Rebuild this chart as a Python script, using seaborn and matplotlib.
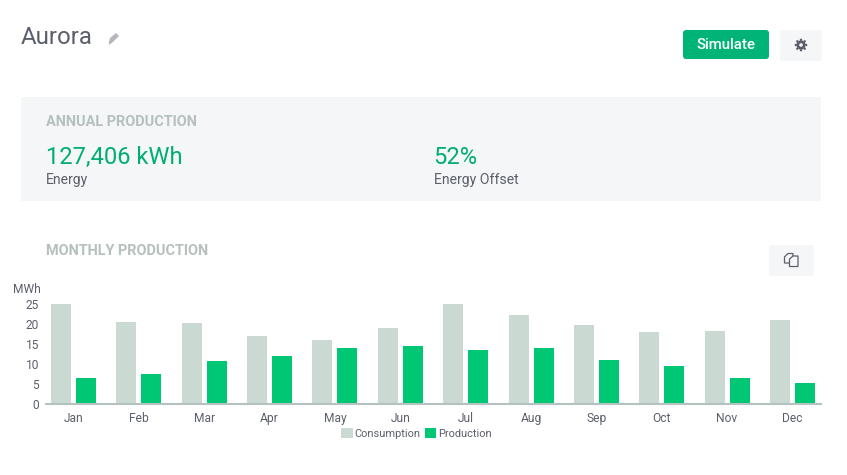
import numpy as np
import pandas as pd
import seaborn as sns
import matplotlib
matplotlib.use("Agg")
import matplotlib.pyplot as plt
from matplotlib.patches import FancyBboxPatch, Rectangle, Polygon, Circle

months = ["Jan", "Feb", "Mar", "Apr", "May", "Jun", "Jul", "Aug", "Sep", "Oct", "Nov", "Dec"]
consumption = [25.0, 20.6, 20.3, 17.0, 16.2, 19.0, 25.0, 22.4, 19.8, 18.0, 18.4, 21.1]
production = [6.5, 7.6, 10.8, 12.2, 14.2, 14.6, 13.6, 14.0, 11.0, 9.5, 6.5, 5.4]
series_names = ["Consumption", "Production"]
y_ticks = [0, 5, 10, 15, 20, 25]

C_CONS = "#CBD9D3"
C_PROD = "#00C774"
C_BTN = "#00B377"
C_GREEN = "#00AE70"
C_PANEL = "#F5F6F8"
C_HEAD = "#B6C0BE"
C_TEXT = "#5B5F6B"
C_AXIS = "#B4C2C0"

sns.set_theme(style="white")
plt.rcParams["font.family"] = ["Roboto", "DejaVu Sans"]

W, H = 847, 475
fig = plt.figure(figsize=(W / 100, H / 100), dpi=100, facecolor="white")

# page layer in pixel coordinates
page = fig.add_axes([0, 0, 1, 1], zorder=0)
page.set_xlim(0, W)
page.set_ylim(H, 0)
page.axis("off")


def box(x, y, w, h, color, r=3):
    page.add_patch(FancyBboxPatch((x + r, y + r), w - 2 * r, h - 2 * r,
                                  boxstyle=f"round,pad={r},rounding_size={r}",
                                  fc=color, ec="none"))


def px(size):
    return size * 0.72


page.text(21, 37, "Aurora", fontsize=px(24), color=C_TEXT, va="center", ha="left")
# pencil icon
page.add_patch(Polygon([(109, 42), (110, 38), (116, 33), (119, 36), (113, 42), (109, 45)],
                       closed=True, fc="#B3B7BC", ec="none"))

box(683, 30, 86, 29, C_BTN)
page.text(726, 45, "Simulate", fontsize=px(15), color="white", weight="medium",
          va="center", ha="center")
box(780, 30, 42, 31, C_PANEL)
# gear icon
page.add_patch(Circle((801, 45), 4.6, fc=C_TEXT, ec="none"))
for a in np.deg2rad(np.arange(0, 360, 45)):
    page.add_patch(Circle((801 + 5.2 * np.cos(a), 45 + 5.2 * np.sin(a)), 1.2, fc=C_TEXT, ec="none"))
page.add_patch(Circle((801, 45), 1.8, fc=C_PANEL, ec="none"))

page.add_patch(Rectangle((21, 97), 800, 104, fc=C_PANEL, ec="none"))
page.text(46, 122, "ANNUAL PRODUCTION", fontsize=px(14.5), color=C_HEAD, weight="bold",
          va="center", ha="left")
page.text(46, 157, "127,406 kWh", fontsize=px(23.7), color=C_GREEN, va="center", ha="left")
page.text(46, 180, "Energy", fontsize=px(14), color=C_TEXT, va="center", ha="left")
page.text(433.5, 157, "52%", fontsize=px(23.7), color=C_GREEN, va="center", ha="left")
page.text(434, 180, "Energy Offset", fontsize=px(14), color=C_TEXT, va="center", ha="left")

page.text(46, 251, "MONTHLY PRODUCTION", fontsize=px(14.5), color=C_HEAD, weight="bold",
          va="center", ha="left")
box(769, 245, 45, 31, C_PANEL)
# copy icon
page.add_patch(Polygon([(784.5, 263), (784.5, 257), (788, 253.5), (793, 253.5), (793, 263)],
                       closed=True, fc="none", ec=C_TEXT, lw=0.9))
page.add_patch(Polygon([(789.5, 266.5), (789.5, 259), (793, 256), (798, 256), (798, 266.5)],
                       closed=True, fc=C_PANEL, ec=C_TEXT, lw=0.9))

page.text(13, 289.5, "MWh", fontsize=px(12), color=C_TEXT, va="center", ha="left")

# chart layer: 4 px per MWh, baseline at y=404.3, x band 65.36 px with Jan at 73.5
left, right, base, top = 46, 821, 404.3, 300.3
ax = fig.add_axes([left / W, 1 - base / H, (right - left) / W, (base - top) / H],
                  zorder=1, facecolor="none")
df = pd.DataFrame({
    "month": months * 2,
    "series": [series_names[0]] * len(months) + [series_names[1]] * len(months),
    "value": consumption + production,
})
sns.barplot(data=df, x="month", y="value", hue="series", hue_order=series_names,
            palette=[C_CONS, C_PROD], width=0.765, gap=0.2, saturation=1,
            dodge=True, ax=ax, legend=True, edgecolor="none", linewidth=0)
ax.set_xlim((left - 73.5) / 65.36, (right - 73.5) / 65.36)
ax.set_ylim(0, 26)
ax.set_yticks(y_ticks)
ax.set_xlabel("")
ax.set_ylabel("")
ax.tick_params(axis="x", length=0, pad=5.5, labelsize=px(12), labelcolor=C_TEXT)
ax.tick_params(axis="y", length=0, pad=5, labelsize=px(12), labelcolor=C_TEXT)
for s in ["top", "right", "left"]:
    ax.spines[s].set_visible(False)
ax.spines["bottom"].set_color(C_AXIS)
ax.spines["bottom"].set_linewidth(1.5)

leg = ax.legend(loc="center", bbox_to_anchor=(416.5 / W, 1 - 433.5 / H),
                bbox_transform=fig.transFigure, ncol=2, frameon=False,
                fontsize=px(11), handlelength=1.05, handleheight=1.05,
                handletextpad=0.18, columnspacing=0.4, borderpad=0)
for t in leg.get_texts():
    t.set_color(C_TEXT)

fig.savefig("out.png", dpi=100, facecolor="white")
